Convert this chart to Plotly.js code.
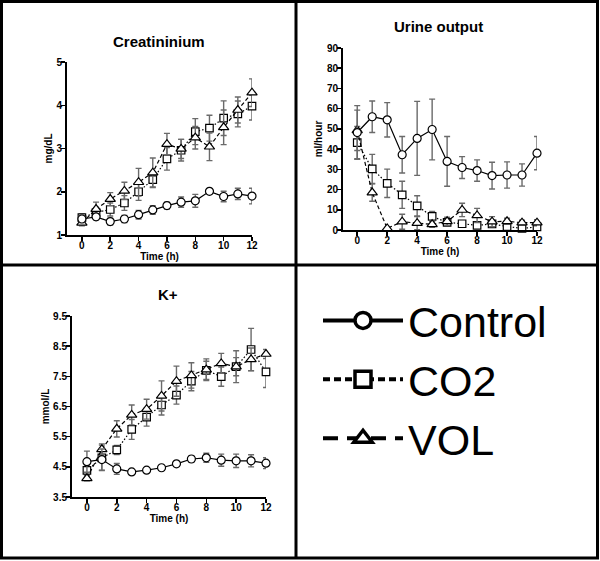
<!DOCTYPE html>
<html>
<head>
<meta charset="utf-8">
<script src="https://cdn.plot.ly/plotly-3.0.1.min.js"></script>
<style>
  html, body { margin: 0; padding: 0; background: #ffffff; }
  #chart { width: 600px; height: 561px; }
</style>
</head>
<body>
<div id="chart"></div>
<script>
// ---- data ----
var hours = [0, 1, 2, 3, 4, 5, 6, 7, 8, 9, 10, 11, 12];
var xTicks = [0, 2, 4, 6, 8, 10, 12];

var creatControl    = [1.37, 1.42, 1.31, 1.37, 1.47, 1.58, 1.68, 1.76, 1.79, 2.01, 1.89, 1.95, 1.90];
var creatControlErr = [0.08, 0.07, 0.08, 0.08, 0.10, 0.10, 0.08, 0.12, 0.15, 0.05, 0.12, 0.13, 0.18];
var creatCO2        = [1.40, 1.52, 1.59, 1.74, 2.00, 2.28, 2.76, 2.96, 3.39, 3.47, 3.70, 3.80, 3.98];
var creatCO2Err     = [0.08, 0.10, 0.15, 0.17, 0.20, 0.17, 0.26, 0.25, 0.30, 0.30, 0.40, 0.30, 0.32];
var creatVOL        = [1.28, 1.60, 1.83, 2.02, 2.22, 2.44, 3.10, 2.99, 3.25, 3.04, 3.49, 3.89, 4.29];
var creatVOLErr     = [0.07, 0.16, 0.15, 0.20, 0.32, 0.34, 0.25, 0.22, 0.26, 0.32, 0.40, 0.30, 0.32];

var urineControl    = [48.2, 56.0, 54.5, 37.2, 45.3, 49.7, 33.9, 30.9, 29.4, 26.9, 27.2, 27.2, 38.0];
var urineControlErr = [13.3, 7.8, 8.5, 9.0, 18.3, 15.0, 12.3, 5.4, 5.3, 6.6, 6.5, 5.5, 8.2];
var urineCO2        = [43.2, 30.2, 23.1, 17.4, 11.9, 6.7, 3.8, 3.1, 2.3, 3.0, 1.7, 0.8, 1.5];
var urineCO2Err     = [8.0, 7.2, 7.0, 6.7, 5.0, 2.5, 1.5, 1.0, 1.0, 1.2, 1.0, 0.8, 1.0];
var urineVOL        = [49.3, 18.5, 0.8, 4.1, 3.4, 2.8, 4.3, 9.9, 7.2, 4.1, 4.3, 3.6, 3.6];
var urineVOLErr     = [10.0, 4.3, 0.5, 3.7, 3.2, 1.5, 2.0, 3.3, 3.5, 2.5, 1.5, 1.2, 1.5];

var kControl    = [4.67, 4.74, 4.43, 4.33, 4.39, 4.47, 4.60, 4.76, 4.80, 4.72, 4.70, 4.70, 4.62];
var kControlErr = [0.35, 0.35, 0.18, 0.04, 0.05, 0.05, 0.07, 0.10, 0.15, 0.20, 0.22, 0.20, 0.18];
var kCO2        = [4.38, 4.80, 5.06, 5.74, 6.15, 6.55, 6.88, 7.34, 7.70, 7.49, 7.82, 8.39, 7.65];
var kCO2Err     = [0.15, 0.42, 0.15, 0.33, 0.30, 0.33, 0.30, 0.32, 0.30, 0.32, 0.53, 0.70, 0.52];
var kVOL        = [4.12, 5.08, 5.76, 6.22, 6.41, 6.85, 7.34, 7.53, 7.72, 7.93, 7.82, 8.06, 8.24];
var kVOLErr     = [0.08, 0.18, 0.27, 0.33, 0.33, 0.50, 0.50, 0.42, 0.36, 0.33, 0.30, 0.38, 0.15];

var groups = ['Control', 'CO2', 'VOL'];
var panelTitles = ['Creatininium', 'Urine output', 'K+'];
var yTitles = ['mg/dL', 'ml/hour', 'mmol/L'];
var xTitle = 'Time (h)';

// ---- styles ----
var FONT = 'Liberation Sans, Arial, sans-serif';
var styles = {
  'Control': {dash: 'solid', symbol: 'circle', size: 8, legDash: 'solid'},
  'CO2':     {dash: '1.5px,2px', symbol: 'square', size: 7.5, legDash: '7px,4px'},
  'VOL':     {dash: '4px,2.5px', symbol: 'triangle-up', size: 9, legDash: '15px,9px'}
};

function series(name, x, y, err, xa, ya) {
  var s = styles[name];
  return {
    type: 'scatter', mode: 'lines+markers', name: name,
    x: x, y: y, xaxis: xa, yaxis: ya, showlegend: false, cliponaxis: false,
    line: {color: '#000000', width: 1.2, dash: s.dash},
    marker: {symbol: s.symbol, size: s.size, color: '#ffffff', line: {color: '#000000', width: 1.2}},
    error_y: {type: 'data', array: err, visible: true, color: '#6a6a6a', thickness: 1.4, width: 3}
  };
}

var traces = [];
var panels = [
  {xa: 'x',  ya: 'y',  d: [[creatControl, creatControlErr], [creatCO2, creatCO2Err], [creatVOL, creatVOLErr]]},
  {xa: 'x2', ya: 'y2', d: [[urineControl, urineControlErr], [urineCO2, urineCO2Err], [urineVOL, urineVOLErr]]},
  {xa: 'x3', ya: 'y3', d: [[kControl, kControlErr], [kCO2, kCO2Err], [kVOL, kVOLErr]]}
];
panels.forEach(function (p) {
  [1, 2, 0].forEach(function (gi) {
    traces.push(series(groups[gi], hours, p.d[gi][0], p.d[gi][1], p.xa, p.ya));
  });
});

// legend-only entries
groups.forEach(function (g) {
  var s = styles[g];
  traces.push({
    type: 'scatter', mode: 'lines+markers', name: g, legendgroup: g,
    x: [null], y: [null], xaxis: 'x', yaxis: 'y', showlegend: true,
    line: {color: '#000000', width: 4, dash: s.legDash},
    marker: {symbol: s.symbol, size: 20, color: '#ffffff', line: {color: '#000000', width: 3.5}}
  });
});

function xAxis(domain, anchor, range) {
  return {
    domain: domain, anchor: anchor, range: range,
    tickvals: xTicks, ticks: 'outside', ticklen: 4, tickwidth: 1.5, tickcolor: '#000',
    ticklabelstandoff: -4,
    showline: true, linecolor: '#000', linewidth: 2, showgrid: false, zeroline: false,
    tickfont: {family: FONT, size: 10, color: '#000', weight: 'bold'},
    title: {text: xTitle, standoff: 0, font: {family: FONT, size: 10, color: '#000', weight: 'bold'}},
    fixedrange: true
  };
}
function yAxis(domain, anchor, range, dtick, title) {
  return {
    domain: domain, anchor: anchor, range: range, tick0: range[0], dtick: dtick,
    ticks: 'outside', ticklen: 4, tickwidth: 1.5, tickcolor: '#000',
    ticklabelstandoff: -3,
    showline: true, linecolor: '#000', linewidth: 2, showgrid: false, zeroline: false,
    tickfont: {family: FONT, size: 10, color: '#000', weight: 'bold'},
    title: {text: title, standoff: 2, font: {family: FONT, size: 10, color: '#000', weight: 'bold'}},
    fixedrange: true
  };
}

var W = 600, H = 561;
function px(x) { return x / W; }
function py(y) { return 1 - y / H; }

function titleAnn(text, x, y) {
  return {text: text, x: px(x), y: py(y), xref: 'paper', yref: 'paper', showarrow: false,
          xanchor: 'center', yanchor: 'middle',
          font: {family: FONT, size: 15, color: '#000', weight: 'bold'}};
}

var layout = {
  width: W, height: H,
  margin: {l: 0, r: 0, t: 0, b: 0},
  paper_bgcolor: '#ffffff', plot_bgcolor: 'rgba(0,0,0,0)',
  font: {family: FONT, color: '#000'},
  xaxis:  xAxis([px(67), px(252)], 'y', [-1.05, 12]),
  yaxis:  yAxis([py(235), py(62)], 'x', [1, 5], 1, yTitles[0]),
  xaxis2: xAxis([px(343), px(537)], 'y2', [-0.95, 12]),
  yaxis2: yAxis([py(230), py(48)], 'x2', [0, 90], 10, yTitles[1]),
  xaxis3: xAxis([px(72), px(266)], 'y3', [-1.0, 12]),
  yaxis3: yAxis([py(497), py(316)], 'x3', [3.5, 9.5], 1, yTitles[2]),
  showlegend: true,
  legend: {
    x: px(318), y: py(286), xanchor: 'left', yanchor: 'top',
    font: {family: FONT, size: 43, color: '#000'},
    itemwidth: 80, tracegroupgap: 0, traceorder: 'grouped',
    bgcolor: 'rgba(0,0,0,0)', borderwidth: 0,
    itemclick: false, itemdoubleclick: false
  },
  annotations: [
    titleAnn(panelTitles[0], 159, 42),
    titleAnn(panelTitles[1], 438, 27),
    titleAnn(panelTitles[2], 168, 294)
  ],
  shapes: [
    {type: 'rect', xref: 'paper', yref: 'paper', x0: px(1.5), x1: px(597.5), y0: py(558), y1: py(1.5),
     line: {color: '#000', width: 3}},
    {type: 'line', xref: 'paper', yref: 'paper', x0: px(296), x1: px(296), y0: py(558), y1: py(1.5),
     line: {color: '#000', width: 3}},
    {type: 'line', xref: 'paper', yref: 'paper', x0: px(1.5), x1: px(597.5), y0: py(265), y1: py(265),
     line: {color: '#000', width: 3}}
  ]
};

Plotly.newPlot('chart', traces, layout, {staticPlot: true, displayModeBar: false});
</script>
</body>
</html>
